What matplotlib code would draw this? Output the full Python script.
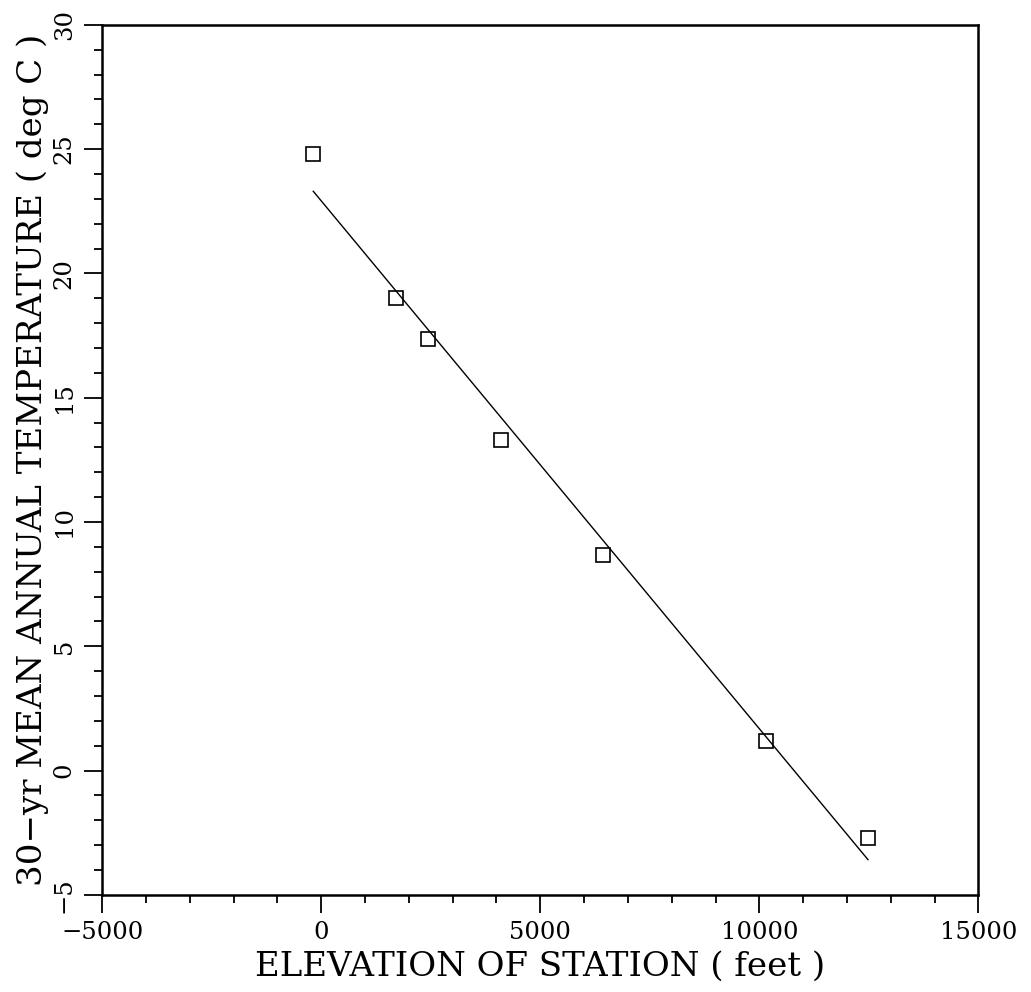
import numpy as np
import matplotlib
matplotlib.use('Agg')
import matplotlib.pyplot as plt
from matplotlib.ticker import MultipleLocator

# station elevation (ft) vs 30-yr mean annual temperature (deg C)
elev = [-180, 1700, 2440, 4100, 6430, 10150, 12480]
temp = [24.8, 19.0, 17.35, 13.3, 8.65, 1.2, -2.7]

plt.rcParams['font.family'] = ['DejaVu Serif']

fig = plt.figure(figsize=(10.31, 9.92), dpi=100)
ax = fig.add_axes([0.099, 0.098, 0.850, 0.877])

# least squares line over the data range
k, b = np.polyfit(elev, temp, 1)
xl = np.array([min(elev), max(elev)])
ax.plot(xl, k * xl + b, color='black', lw=1.0)
ax.plot(elev, temp, linestyle='none', marker='s', markersize=10,
        markerfacecolor='none', markeredgecolor='black', markeredgewidth=1.2)

ax.set_xlim(-5000, 15000)
ax.set_ylim(-5, 30)
ax.xaxis.set_major_locator(MultipleLocator(5000))
ax.xaxis.set_minor_locator(MultipleLocator(1000))
ax.yaxis.set_major_locator(MultipleLocator(5))
ax.yaxis.set_minor_locator(MultipleLocator(1))
ax.tick_params(which='both', direction='out', width=1.3, top=False, right=False)
ax.tick_params(which='major', length=13, labelsize=17.5, pad=6)
ax.tick_params(which='minor', length=6)
for t in ax.get_yticklabels():
    t.set_rotation(90)
    t.set_va('center')
for s in ax.spines.values():
    s.set_linewidth(1.8)

ax.set_xlabel('ELEVATION OF STATION ( feet )', fontsize=24.5, labelpad=5)
ax.set_ylabel('30\u2212yr MEAN ANNUAL TEMPERATURE ( deg C )', fontsize=24.5, labelpad=3)

fig.savefig('out.png', dpi=100)
